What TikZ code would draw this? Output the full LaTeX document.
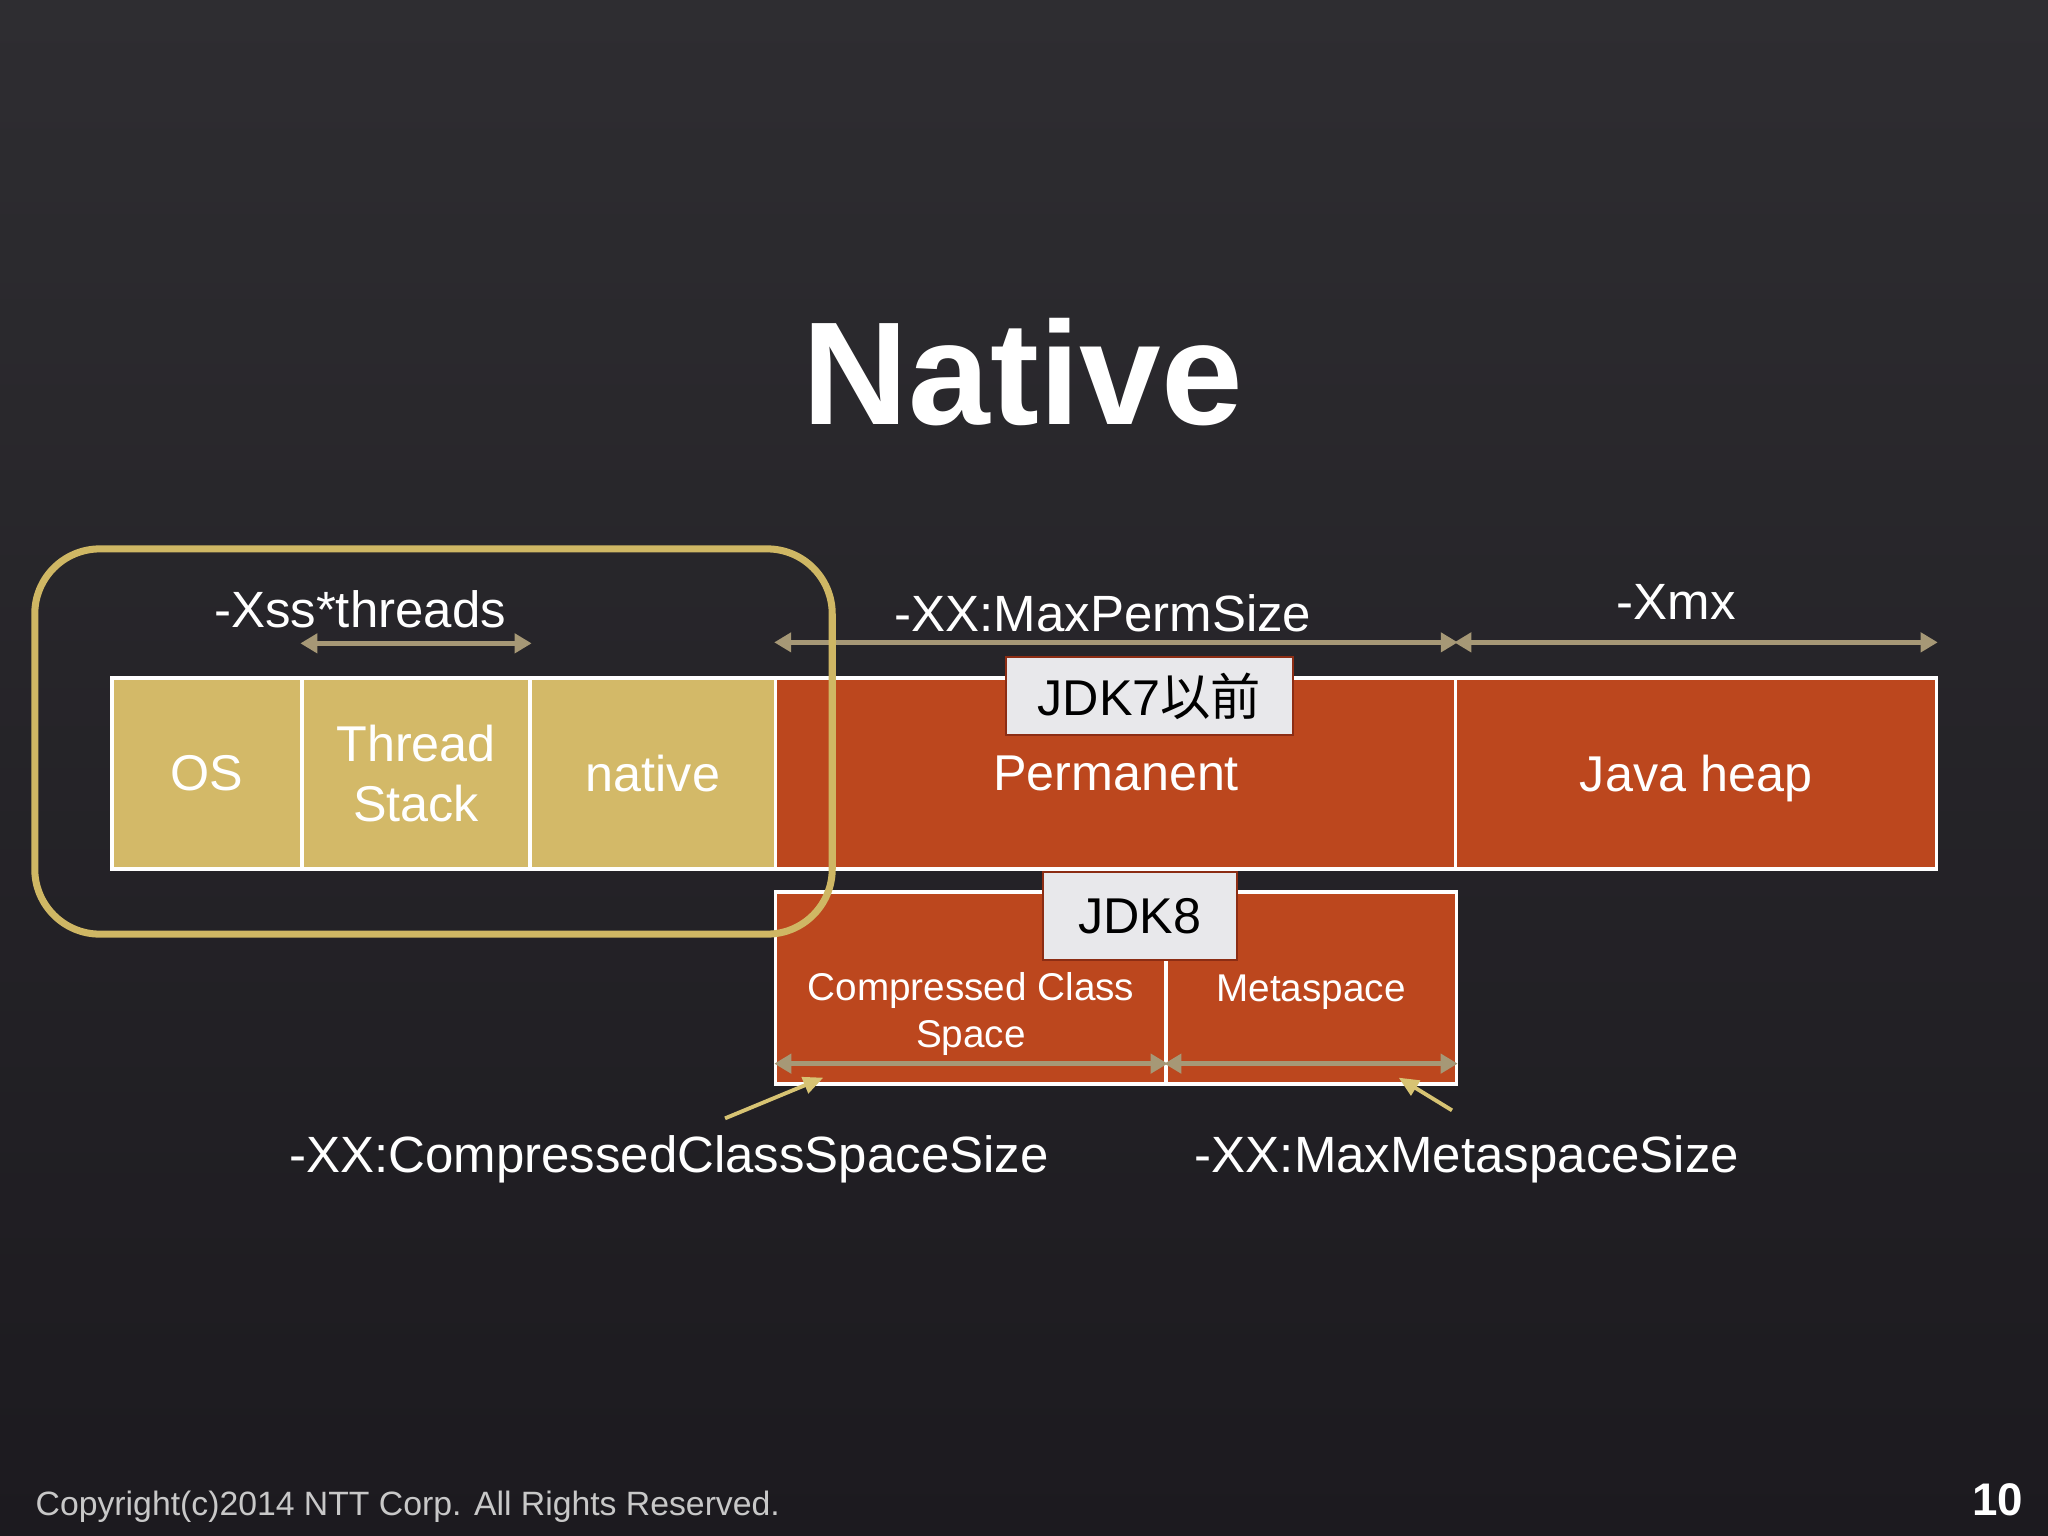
\documentclass[tikz,border=0pt]{standalone}
\usepackage{fontspec}
\setmainfont{Liberation Sans}
\newfontfamily\cjk{Noto Sans CJK JP}
\usetikzlibrary{arrows.meta}
\definecolor{bgtop}{RGB}{46,45,49}
\definecolor{bgbot}{RGB}{28,26,31}
\definecolor{segold}{RGB}{211,185,104}
\definecolor{segred}{RGB}{188,71,30}
\definecolor{dimcol}{RGB}{166,152,118}
\definecolor{framecol}{RGB}{207,183,100}
\definecolor{ptrcol}{RGB}{215,195,115}
\definecolor{tagfill}{RGB}{232,232,235}
\definecolor{tagline}{RGB}{140,45,20}
\definecolor{footcol}{RGB}{200,200,200}

\begin{document}
\begin{tikzpicture}[x=0.01cm, y=-0.01cm,
    seg/.style={draw=white, line width=0.9pt, minimum height=1.91cm, align=center, inner sep=0pt, text=white, font=\fontsize{14.3pt}{17.2pt}\selectfont},
    low/.style={draw=white, line width=0.9pt, fill=segred, minimum height=1.92cm, minimum width=#1, inner sep=0pt},
    tag/.style={draw=tagline, line width=0.6pt, fill=tagfill, inner sep=0pt, font=\fontsize{14.3pt}{17.2pt}\selectfont},
    lbl/.style={text=white, inner sep=0pt, anchor=base, font=\fontsize{14.5pt}{17.4pt}\selectfont},
    small/.style={text=white, inner sep=0pt, align=center, font=\fontsize{11pt}{13.4pt}\selectfont},
    dim/.style={{Triangle[length=0.17cm,width=0.19cm]}-{Triangle[length=0.17cm,width=0.19cm]}, draw=dimcol, line width=1.5pt},
    ptr/.style={-{Triangle[length=0.2cm,width=0.17cm]}, draw=ptrcol, line width=1.1pt},
    hilite/.style={draw=framecol, line width=2pt, rounded corners=0.65cm, minimum width=7.97cm, minimum height=3.85cm}
]
\useasboundingbox (0,0) rectangle (2048,1536);
\shade[top color=bgtop, bottom color=bgbot] (0,0) rectangle (2048,1536);

\node[anchor=base, text=white, font=\fontsize{41.7pt}{50pt}\selectfont\bfseries] (title) at (1023,424) {Native};

% memory row
\node[seg, fill=segold, minimum width=1.90cm] (os) at (207,773.5) {OS};
\node[seg, fill=segold, minimum width=2.28cm] (thread) at (416,773.5) {Thread\\Stack};
\node[seg, fill=segold, minimum width=2.46cm] (native) at (653,773.5) {native};
\node[seg, fill=segred, minimum width=6.80cm, text depth=0pt] (perm) at (1116,773.5) {Permanent};
\node[seg, fill=segred, minimum width=4.80cm, text depth=0pt] (heap) at (1696,773.5) {Java heap};

% JDK8 split
\node[low=3.90cm] (ccs) at (971,988) {};
\node[low=2.90cm] (meta) at (1311,988) {};
\node[small] (ccstxt) at (971,1014) {Compressed Class\\Space};
\node[small] (metatxt) at (1311,992) {Metaspace};

\node[tag, minimum width=2.87cm, minimum height=0.78cm] (jdkseven) at (1149.5,696) {JDK7{\cjk 以前}};
\node[tag, minimum width=1.94cm, minimum height=0.88cm] (jdkeight) at (1140,916) {JDK8};

% size arrows
\draw[dim] ([yshift=0.33cm]thread.north west) -- ([yshift=0.33cm]thread.north east);
\draw[dim] ([yshift=0.34cm]perm.north west) -- ([yshift=0.34cm]perm.north east);
\draw[dim] ([yshift=0.34cm]heap.north west) -- ([yshift=0.34cm]heap.north east);
\draw[dim] ([yshift=0.22cm]ccs.south west) -- ([yshift=0.22cm]ccs.south east);
\draw[dim] ([yshift=0.22cm]meta.south west) -- ([yshift=0.22cm]meta.south east);

\node[lbl] (xsslbl) at (360,627) {-Xss*threads};
\node[lbl] (permlbl) at (1103,631) {-XX:MaxPermSize};
\node[lbl] (xmxlbl) at (1676,619) {-Xmx};
\node[lbl] (ccslbl) at (669,1172) {-XX:CompressedClassSpaceSize};
\node[lbl] (metalbl) at (1467,1172) {-XX:MaxMetaspaceSize};

\draw[ptr] ([xshift=0.56cm,yshift=0.16cm]ccslbl.north) -- ([xshift=0.49cm,yshift=0.08cm]ccs.south west);
\draw[ptr] ([xshift=-0.15cm,yshift=0.24cm]metalbl.north) -- ([xshift=-0.59cm,yshift=0.08cm]meta.south east);

\node[hilite] (frame) at (433.5,741.5) {};

\node[anchor=base west, inner sep=0pt, text=footcol, font=\fontsize{9.6pt}{11.5pt}\selectfont] (copy) at (35,1515) {Copyright(c)2014 NTT Corp. All Rights Reserved.};
\node[anchor=base east, inner sep=0pt, text=white, font=\fontsize{13pt}{15pt}\selectfont\bfseries] (pageno) at (2024,1515) {10};
\end{tikzpicture}
\end{document}
